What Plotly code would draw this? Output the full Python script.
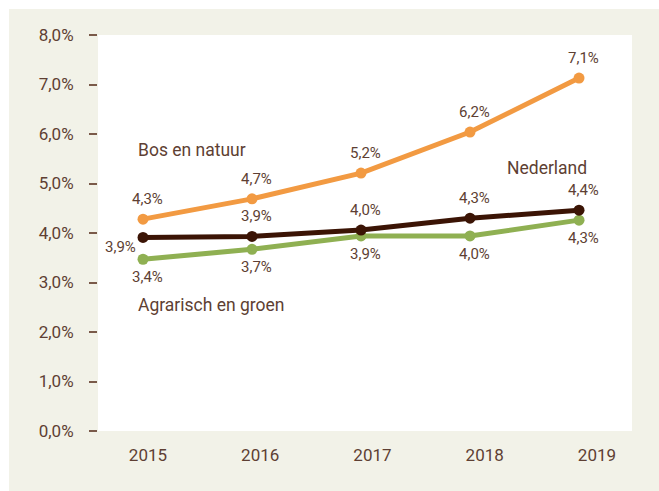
import plotly.graph_objects as go

years = [2015, 2016, 2017, 2018, 2019]
bos_natuur = [4.28, 4.69, 5.21, 6.04, 7.13]
nederland = [3.91, 3.93, 4.06, 4.30, 4.46]
agrarisch = [3.47, 3.67, 3.94, 3.94, 4.26]

bos_labels = ["4,3%", "4,7%", "5,2%", "6,2%", "7,1%"]
ned_labels = ["3,9%", "3,9%", "4,0%", "4,3%", "4,4%"]
agr_labels = ["3,4%", "3,7%", "3,9%", "4,0%", "4,3%"]

y_ticks = [0, 1, 2, 3, 4, 5, 6, 7, 8]
y_tick_labels = ["0,0%", "1,0%", "2,0%", "3,0%", "4,0%", "5,0%", "6,0%", "7,0%", "8,0%"]
year_labels = ["2015", "2016", "2017", "2018", "2019"]

ORANGE = "#f29a42"
DARK = "#3b1405"
GREEN = "#8fb052"
TEXT = "#5e3f33"
BEIGE = "#f2f2e8"
FONT = "Roboto"

fig = go.Figure()
for vals, col, name in [(agrarisch, GREEN, "Agrarisch en groen"),
                        (nederland, DARK, "Nederland"),
                        (bos_natuur, ORANGE, "Bos en natuur")]:
    fig.add_trace(go.Scatter(x=years, y=vals, mode="lines+markers", name=name,
                             line=dict(color=col, width=5),
                             marker=dict(color=col, size=11),
                             hoverinfo="skip", showlegend=False))

# carrier for the year-label axis (draws nothing)
fig.add_trace(go.Scatter(x=years, y=nederland, mode="none", xaxis="x2",
                         hoverinfo="skip", showlegend=False))

annotations = []
lab_font = dict(family=FONT, size=15, color=TEXT)
for x, v, t in zip(years, bos_natuur, bos_labels):
    annotations.append(dict(x=x, y=v, text=t, showarrow=False, font=lab_font,
                            xanchor="center", yanchor="middle", xshift=4, yshift=20))
for i, (x, v, t) in enumerate(zip(years, nederland, ned_labels)):
    if i == 0:
        annotations.append(dict(x=x, y=v, text=t, showarrow=False, font=lab_font,
                                xanchor="center", yanchor="middle", xshift=-23, yshift=-10))
    else:
        annotations.append(dict(x=x, y=v, text=t, showarrow=False, font=lab_font,
                                xanchor="center", yanchor="middle", xshift=4, yshift=20))
for x, v, t in zip(years, agrarisch, agr_labels):
    annotations.append(dict(x=x, y=v, text=t, showarrow=False, font=lab_font,
                            xanchor="center", yanchor="middle", xshift=4, yshift=-18))

name_font = dict(family=FONT, size=17.5, color=TEXT)
annotations += [
    dict(x=2015, y=5.68, text="Bos en natuur", showarrow=False, font=name_font,
         xanchor="left", yanchor="middle", xshift=-7),
    dict(x=2015, y=2.545, text="Agrarisch en groen", showarrow=False, font=name_font,
         xanchor="left", yanchor="middle", xshift=-7),
    dict(x=2019, y=5.32, text="Nederland", showarrow=False, font=name_font,
         xanchor="right", yanchor="middle", xshift=10),
]

shapes = [
    dict(type="rect", xref="paper", yref="paper", x0=-0.2, x1=1.1, y0=1.0657, y1=1.1,
         fillcolor="white", line=dict(width=0), layer="below"),
    dict(type="rect", xref="paper", yref="paper", x0=-0.2, x1=-0.1667, y0=-0.2, y1=1.1,
         fillcolor="white", line=dict(width=0), layer="below"),
]

fig.update_layout(
    width=659, height=491,
    margin=dict(l=98, r=27, t=35, b=60),
    paper_bgcolor=BEIGE, plot_bgcolor="white",
    font=dict(family=FONT, color=TEXT),
    annotations=annotations, shapes=shapes,
    xaxis=dict(range=[2014.587, 2019.486], showticklabels=False, ticks="",
               showgrid=False, zeroline=False, showline=False),
    xaxis2=dict(range=[2014.555, 2019.312], overlaying="x", anchor="y", side="bottom",
                tickvals=years, ticktext=year_labels, ticks="",
                showgrid=False, zeroline=False, showline=False,
                tickfont=dict(family=FONT, size=17, color=TEXT), ticklabelstandoff=12),
    yaxis=dict(range=[0, 8], tickvals=y_ticks, ticktext=y_tick_labels,
               ticks="outside", ticklen=8, tickwidth=1.5, tickcolor="#7a5a4a",
               showgrid=False, zeroline=False, showline=False,
               tickfont=dict(family=FONT, size=17, color=TEXT), ticklabelstandoff=12),
)

fig.write_html("out.html", config={"displayModeBar": False},
               post_script="document.body.style.margin='0';")
